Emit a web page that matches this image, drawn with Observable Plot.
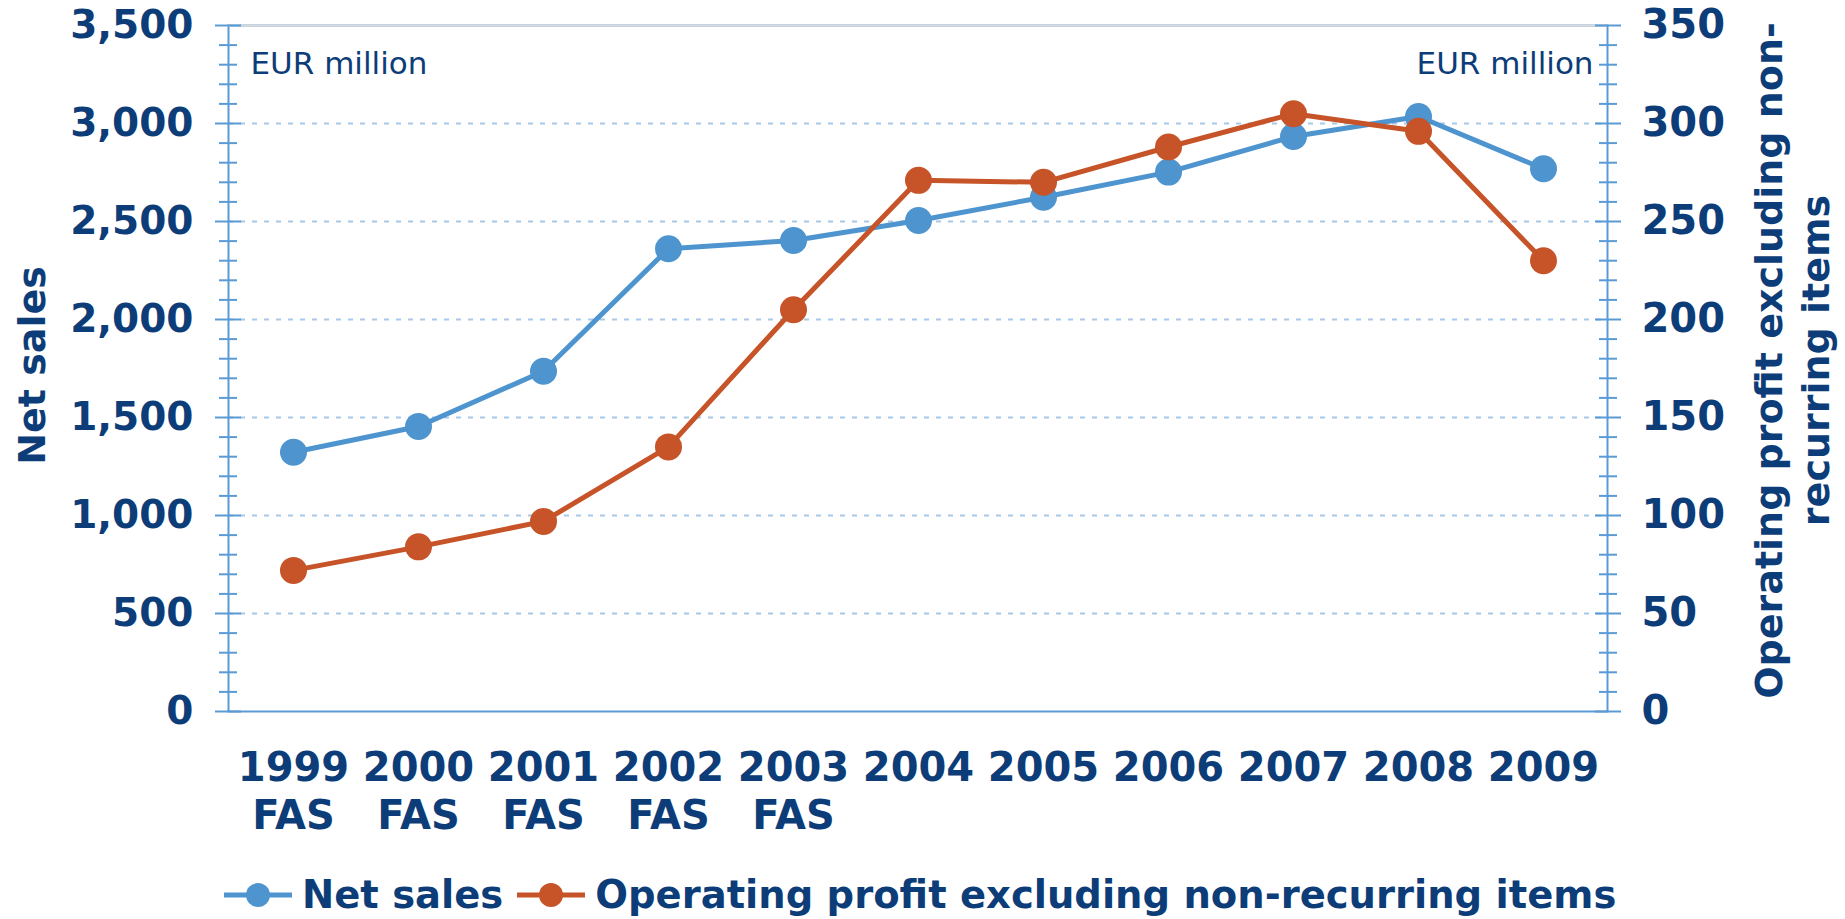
<!DOCTYPE html>
<html>
<head>
<meta charset="utf-8">
<script src="https://cdn.jsdelivr.net/npm/d3@7"></script>
<script src="https://cdn.jsdelivr.net/npm/@observablehq/plot@0.6"></script>
<style>
  html, body { margin: 0; padding: 0; background: #fff; }
  #wrap { position: relative; width: 1845px; height: 919px; overflow: hidden; }
  #legend {
    position: absolute; left: 224px; top: 875px; height: 40px;
    display: flex; align-items: center;
    font-family: "DejaVu Sans", sans-serif; font-weight: bold; font-size: 38.5px;
    line-height: 40px; color: #0d3d78; white-space: nowrap;
  }
  #legend .item { display: flex; align-items: center; }
  #legend svg { display: block; margin-right: 10px; }
</style>
</head>
<body>
<div id="wrap"><div id="chart"></div><div id="legend"></div></div>
<script>
// ---- data ----
const years = ["1999", "2000", "2001", "2002", "2003", "2004", "2005", "2006", "2007", "2008", "2009"];
const xLabels = ["1999\nFAS", "2000\nFAS", "2001\nFAS", "2002\nFAS", "2003\nFAS", "2004", "2005", "2006", "2007", "2008", "2009"];
const netSales = [1323, 1454, 1736, 2361, 2403, 2505, 2624, 2752, 2934, 3036, 2769];
const opProfit = [72, 84, 97, 135, 205, 271, 270, 288, 305, 296, 230];
const leftTicks = [0, 500, 1000, 1500, 2000, 2500, 3000, 3500];
const rightTickLabels = ["0", "50", "100", "150", "200", "250", "300", "350"];
const seriesNames = ["Net sales", "Operating profit excluding non-recurring items"];
const seriesColors = ["#4e94cf", "#c65428"];

// ---- derived tables ----
const salesData = years.map((y, i) => ({year: y, value: netSales[i]}));
const profitData = years.map((y, i) => ({year: y, value: opProfit[i]}));
const minorTicks = d3.range(0, 3501, 100).filter(v => v % 500 !== 0);
const profitScale = 3500 / 350;

const navy = "#0d3d78";
const axisBlue = "#5b9bd5";

const chart = Plot.plot({
  width: 1845,
  height: 850,
  marginLeft: 228,
  marginRight: 238,
  marginTop: 25,
  marginBottom: 139,
  style: {fontFamily: "DejaVu Sans, sans-serif", fontSize: "38px", fontWeight: "bold", color: navy, background: "#fff"},
  x: {type: "point", domain: years, padding: 0.5},
  y: {domain: [0, 3500]},
  marks: [
    Plot.ruleY(leftTicks.filter(v => v > 0 && v < 3500), {stroke: "#a8c8e8", strokeWidth: 2, strokeDasharray: "5 7"}),
    Plot.frame({stroke: axisBlue, strokeWidth: 2}),
    Plot.ruleY([3500], {stroke: "#d9d9d9", strokeWidth: 2}),
    // left axis ticks (crossing the axis line)
    Plot.axisY({anchor: "left", ticks: minorTicks, tickSize: 18, dx: 9, tickFormat: () => "", stroke: axisBlue, strokeWidth: 2, label: null}),
    Plot.axisY({anchor: "left", ticks: leftTicks, tickSize: 26, dx: 13, tickFormat: () => "", stroke: axisBlue, strokeWidth: 2, label: null}),
    Plot.axisY({anchor: "left", ticks: leftTicks, tickSize: 0, tickPadding: 35, tickFormat: d3.format(","), label: null, fontSize: 39}),
    // right axis ticks
    Plot.axisY({anchor: "right", ticks: minorTicks, tickSize: 18, dx: -9, tickFormat: () => "", stroke: axisBlue, strokeWidth: 2, label: null}),
    Plot.axisY({anchor: "right", ticks: leftTicks, tickSize: 26, dx: -13, tickFormat: () => "", stroke: axisBlue, strokeWidth: 2, label: null}),
    Plot.axisY({anchor: "right", ticks: leftTicks, tickSize: 0, tickPadding: 34, tickFormat: d => rightTickLabels[leftTicks.indexOf(d)], label: null, fontSize: 40}),
    // x axis labels
    Plot.axisX({anchor: "bottom", tickSize: 0, tickPadding: 35, tickFormat: d => xLabels[years.indexOf(d)], lineHeight: 1.2, label: null, fontSize: 40}),
    // axis titles
    Plot.text([seriesNames[0]], {frameAnchor: "left", textAnchor: "middle", dx: -196, dy: -3, rotate: -90, text: d => d, fontSize: 38, fill: navy}),
    Plot.text(["Operating profit excluding non-\nrecurring items"], {frameAnchor: "right", textAnchor: "middle", dx: 183, dy: -8, rotate: -90, text: d => d, fontSize: 38, lineHeight: 1.24, fill: navy}),
    // unit notes
    Plot.text(["EUR million"], {frameAnchor: "top-left", textAnchor: "start", lineAnchor: "top", dx: 22, dy: 26, text: d => d, fontSize: 31, fontWeight: "normal", fill: navy}),
    Plot.text(["EUR million"], {frameAnchor: "top-right", textAnchor: "end", lineAnchor: "top", dx: -14, dy: 26, text: d => d, fontSize: 31, fontWeight: "normal", fill: navy}),
    // series
    Plot.line(salesData, {x: "year", y: "value", stroke: seriesColors[0], strokeWidth: 5}),
    Plot.dot(salesData, {x: "year", y: "value", r: 13.5, fill: seriesColors[0], stroke: null}),
    Plot.line(profitData, {x: "year", y: d => d.value * profitScale, stroke: seriesColors[1], strokeWidth: 5}),
    Plot.dot(profitData, {x: "year", y: d => d.value * profitScale, r: 13.5, fill: seriesColors[1], stroke: null})
  ]
});
document.getElementById("chart").appendChild(chart);

// legend
const legend = document.getElementById("legend");
seriesNames.forEach((name, i) => {
  const item = document.createElement("div");
  item.className = "item";
  item.style.marginRight = i === 0 ? "14px" : "0";
  item.innerHTML = `<svg width="68" height="40" viewBox="0 0 68 40"><line x1="0" y1="20" x2="68" y2="20" stroke="${seriesColors[i]}" stroke-width="5"/><circle cx="34" cy="20" r="12" fill="${seriesColors[i]}"/></svg><span>${name}</span>`;
  legend.appendChild(item);
});
</script>
</body>
</html>
